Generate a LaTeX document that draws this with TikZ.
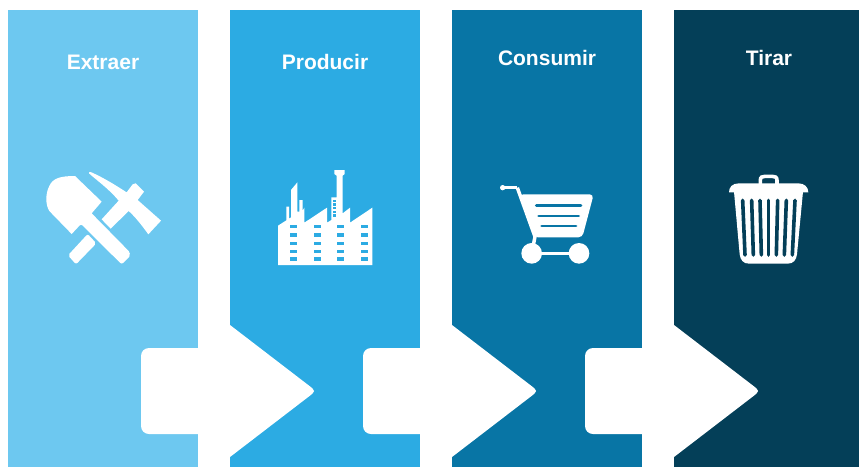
\documentclass[tikz,border=0pt]{standalone}
\usepackage{xcolor}
\usepackage{fontspec}
\setmainfont{Liberation Sans}
\usetikzlibrary{positioning}

\definecolor{extraerblue}{HTML}{6DC8F0}
\definecolor{producirblue}{HTML}{2CABE3}
\definecolor{consumirblue}{HTML}{0875A5}
\definecolor{tirarblue}{HTML}{043F58}

\begin{document}
\begin{tikzpicture}[
    x=1pt,
    y=-1pt,
    node distance=32pt,
    panel/.style={
        rectangle,
        inner sep=0pt,
        outer sep=0pt,
        minimum width=190pt,
        minimum height=457pt
    },
    title/.style={
        text=white,
        font=\fontsize{21}{24}\selectfont\bfseries
    },
    icon/.style={
        fill=white,
        draw=none
    },
    pics/flowarrow/.style={
        code={
            \fill [white, rounded corners=8pt] (1,-43) -- (-89,-43) -- (-89,43) -- (1,43) -- cycle;
            \fill [white] (0,-66) -- (78.2,-6) .. controls (86,0) .. (78.2,6) -- (0,66) -- cycle;
        }
    }
]
    \useasboundingbox (0,0) rectangle (859,467);

    % Nodes
    \node [panel, fill=extraerblue, anchor=north west] (extraer) at (8,10) {};
    \node [panel, fill=producirblue, right=of extraer] (producir) {};
    \node [panel, fill=consumirblue, right=of producir] (consumir) {};
    \node [panel, fill=tirarblue, minimum width=185pt, right=of consumir] (tirar) {};

    \node [title] (extraertitle) at (extraer.north |- 0,62) {Extraer};
    \node [title] (producirtitle) at (producir.north |- 0,62) {Producir};
    \node [title] (consumirtitle) at (consumir.north |- 0,58) {Consumir};
    \node [title] (tirartitle) at (769,58) {Tirar};

    % Arrows
    \pic at (producir.west |- 0,391) {flowarrow};
    \pic at (consumir.west |- 0,391) {flowarrow};
    \pic at (tirar.west |- 0,391) {flowarrow};

    % Shovel and pick
    \begin{scope}[shift={(20,150)},x=1/3pt,y=-1/3pt]
        \fill [icon] (155,252) -- (88,183) .. controls (76,165) and (76,130) .. (88,108)
            .. controls (98,85) and (120,78) .. (165,78) -- (245,155) -- (215,190)
            -- (326,303) [rounded corners=2pt] -- (332,316) -- (305,343) -- (183,222) [sharp corners] -- cycle;
        \fill [icon, rounded corners=2pt] (203,252) -- (229,280) -- (168,343) -- (144,316) -- cycle;
        \fill [icon] (207,67) -- (212,66) .. controls (255,85) and (290,108) .. (320,127)
            -- (338,103) -- (347,100) -- (372,125) -- (353,150) -- (423,212) -- (385,253)
            .. controls (365,225) and (345,200) .. (326,183) -- (272,236) -- (245,208) -- (296,152)
            .. controls (265,115) and (235,95) .. (207,70) -- cycle;
    \end{scope}

    % Factory
    \begin{scope}[shift={(260,160)},x=1/3pt,y=-1/3pt]
        \fill [icon] (54,315) -- (54,197) -- (79,181) -- (79,140) -- (87,140) -- (87,176) -- (93,172)
            -- (93,90) -- (112,67) -- (112,155) -- (118,155) -- (118,120) -- (128,120) -- (128,152)
            -- (133,143) -- (133,188) -- (201,143) -- (201,188) -- (214,180) -- (214,112) -- (230,112)
            -- (230,47) -- (223,42) -- (223,30) -- (254,30) -- (254,42) -- (248,47) -- (248,160)
            -- (270,143) -- (270,188) -- (337,143) -- (337,315) -- cycle;
        \foreach \wx in {90,161,231,302}
            \foreach \wy in {195,220,245,269,292}
                \fill [producirblue] (\wx,\wy) rectangle (\wx+22,\wy+10);
        \foreach \ry in {119,130,141,152,163}
            \fill [producirblue] (219,\ry) rectangle (229,\ry+7);
    \end{scope}

    % Cart
    \begin{scope}[shift={(490,175)},x=1/3pt,y=-1/3pt]
        \fill [icon] (38,38) circle [radius=8];
        \draw [white, line width=2.4pt] (38,38) -- (82,38);
        \draw [white, line width=3.5pt, line join=round] (82,38) -- (135,185) -- (125,235);
        \fill [icon, rounded corners=4pt] (88,58) -- (311,58) -- (277,187) -- (132,187) -- cycle;
        \draw [consumirblue, line width=2.8pt, line cap=round] (139,92) -- (273,92);
        \draw [consumirblue, line width=2.8pt, line cap=round] (146,123) -- (266,123);
        \draw [consumirblue, line width=2.8pt, line cap=round] (155,153) -- (258,153);
        \draw [white, line width=2.4pt] (125,235) -- (267,235);
        \fill [icon] (125,235) circle [radius=31];
        \fill [icon] (267,235) circle [radius=31];
    \end{scope}

    % Bin
    \begin{scope}[shift={(715,165)},x=1/3pt,y=-1/3pt]
        \draw [white, line width=3.6pt] (136,58) -- (136,46) .. controls (136,36) and (142,34) .. (150,34)
            -- (172,34) .. controls (180,34) and (186,36) .. (186,46) -- (186,58);
        \fill [icon] (42,82) .. controls (42,66) and (52,55) .. (72,55) -- (250,55)
            .. controls (268,55) and (280,66) .. (280,82) -- cycle;
        \fill [icon] (57,80) -- (264,80) -- (246,268) .. controls (244,285) and (235,296) .. (218,296)
            -- (102,296) .. controls (85,296) and (76,285) .. (74,268) -- cycle;
        \foreach \sa/\sb in {83/90,110/115,135/139,161/161,188/184,214/208,240/232}
            \draw [tirarblue, line width=3.6pt, line cap=round] (\sa,106) -- (\sb,270);
    \end{scope}

\end{tikzpicture}
\end{document}
